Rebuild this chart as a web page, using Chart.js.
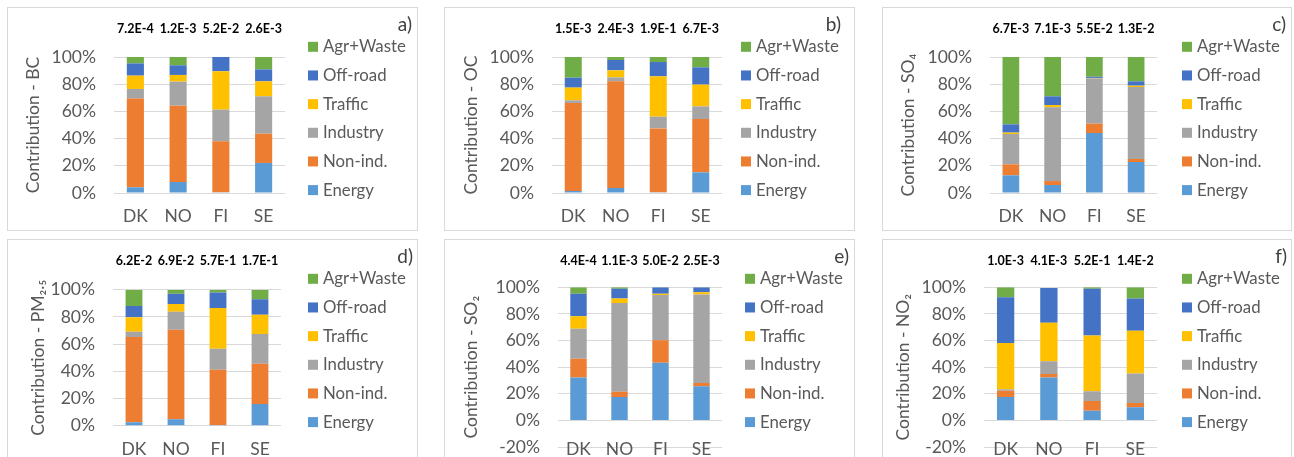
<!DOCTYPE html>
<html>
<head>
<meta charset="utf-8">
<title>Source contributions</title>
<script src="https://cdn.jsdelivr.net/npm/chart.js@4.4.1/dist/chart.umd.min.js"></script>
<style>
  html, body {
    margin: 0;
    padding: 0;
    width: 1294px;
    height: 457px;
    overflow: hidden;
    background: #ffffff;
  }
  .panel {
    position: absolute;
    box-sizing: border-box;
    border: 1px solid #d9d9d9;
    background: #ffffff;
  }
  .panel canvas {
    display: block;
  }
</style>
</head>
<body>
<div class="panel" style="left:7px;top:7px;width:411px;height:224px"><canvas id="chart-bc" width="409" height="222"></canvas></div>
<div class="panel" style="left:444px;top:7px;width:411px;height:224px"><canvas id="chart-oc" width="409" height="222"></canvas></div>
<div class="panel" style="left:882px;top:7px;width:410px;height:224px"><canvas id="chart-so4" width="408" height="222"></canvas></div>
<div class="panel" style="left:7px;top:239px;width:411px;height:224px"><canvas id="chart-pm25" width="409" height="222"></canvas></div>
<div class="panel" style="left:444px;top:239px;width:411px;height:224px"><canvas id="chart-so2" width="409" height="222"></canvas></div>
<div class="panel" style="left:882px;top:239px;width:410px;height:224px"><canvas id="chart-no2" width="408" height="222"></canvas></div>

<script>
var countries = ['DK', 'NO', 'FI', 'SE'];
var sourceNames = ['Energy', 'Non-ind.', 'Industry', 'Traffic', 'Off-road', 'Agr+Waste'];

// shares in %, one row per source (same order as sourceNames), one column per country
var bcShares = [
  [4.2, 8.1, 0.5, 22.1],
  [65.2, 56.1, 37.5, 21.5],
  [7.1, 17.7, 23.3, 27.5],
  [9.8, 4.9, 28.2, 11.0],
  [9.0, 7.1, 10.5, 8.8],
  [4.7, 6.1, 0, 9.1]
];
var bcTotals = ['7.2E-4', '1.2E-3', '5.2E-2', '2.6E-3'];

var ocShares = [
  [1.5, 3.7, 0.5, 15.2],
  [64.7, 78.4, 47.0, 39.2],
  [1.9, 2.9, 8.6, 9.3],
  [9.4, 5.2, 29.7, 16.0],
  [7.3, 7.6, 10.5, 12.7],
  [15.2, 2.2, 3.7, 7.6]
];
var ocTotals = ['1.5E-3', '2.4E-3', '1.9E-1', '6.7E-3'];

var so4Shares = [
  [13.0, 5.9, 44.1, 22.8],
  [8.1, 2.9, 6.9, 2.2],
  [22.3, 54.2, 33.3, 52.9],
  [1.0, 1.7, 0.3, 1.0],
  [6.1, 6.4, 0.9, 3.2],
  [49.5, 28.9, 14.5, 17.9]
];
var so4Totals = ['6.7E-3', '7.1E-3', '5.5E-2', '1.3E-2'];

var pm25Shares = [
  [2.5, 4.7, 0.5, 15.9],
  [62.7, 65.9, 40.7, 29.7],
  [3.9, 13.2, 15.4, 21.8],
  [10.6, 5.7, 29.9, 14.2],
  [8.3, 7.6, 11.5, 11.3],
  [12.0, 2.9, 2.0, 7.1]
];
var pm25Totals = ['6.2E-2', '6.9E-2', '5.7E-1', '1.7E-1'];

var so2Shares = [
  [32.3, 17.5, 43.4, 25.6],
  [14.1, 4.1, 16.8, 2.5],
  [22.5, 66.6, 34.0, 66.4],
  [9.3, 3.3, 1.0, 1.7],
  [17.0, 7.5, 4.8, 3.8],
  [4.8, 1.0, 0, -0.5]
];
var so2Totals = ['4.4E-4', '1.1E-3', '5.0E-2', '2.5E-3'];

var no2Shares = [
  [17.5, 32.3, 7.3, 9.8],
  [4.8, 2.5, 7.2, 3.2],
  [1.0, 9.6, 7.3, 22.3],
  [34.8, 29.0, 41.9, 32.1],
  [34.4, 26.1, 35.3, 24.1],
  [7.5, -0.5, 1.0, 8.5]
];
var no2Totals = ['1.0E-3', '4.1E-3', '5.2E-1', '1.4E-2'];

(function () {
  var FONT = 'Lato, "Liberation Sans", Arial, sans-serif';
  var FONT_SIZE = 17.5;
  var LEGEND_FONT_SIZE = 16.8;
  var HALF_LINE = FONT_SIZE * 1.2 / 2;
  var TEXT_COLOR = '#595959';
  var GRID_COLOR = '#d9d9d9';
  var SOURCE_COLORS = ['#5b9bd5', '#ed7d31', '#a5a5a5', '#ffc000', '#4472c4', '#70ad47'];

  Chart.defaults.font.family = FONT;
  Chart.defaults.font.size = FONT_SIZE;
  Chart.defaults.color = TEXT_COLOR;

  // totals above bars, panel letter and the legend column on the right
  var panelDecor = {
    id: 'panelDecor',
    afterDraw: function (chart, args, opts) {
      var ctx = chart.ctx;
      var xScale = chart.scales.x;
      ctx.save();

      ctx.font = 'bold 12.5px ' + FONT;
      ctx.fillStyle = '#000000';
      ctx.textAlign = 'center';
      ctx.textBaseline = 'middle';
      (opts.totals || []).forEach(function (text, i) {
        ctx.fillText(text, xScale.getPixelForValue(i), 20.5);
      });

      ctx.font = '19px ' + FONT;
      ctx.fillStyle = '#404040';
      ctx.textAlign = 'right';
      ctx.fillText(opts.letter, opts.letterX, 17);

      ctx.font = LEGEND_FONT_SIZE + 'px ' + FONT;
      ctx.textAlign = 'left';
      var datasets = chart.data.datasets;
      for (var k = datasets.length - 1, row = 0; k >= 0; k--, row++) {
        var y = 38.8 + row * 28.66;
        ctx.fillStyle = datasets[k].backgroundColor;
        ctx.fillRect(opts.legendX, y - 5, 10, 10);
        ctx.fillStyle = TEXT_COLOR;
        ctx.fillText(datasets[k].label, opts.legendX + 15, y);
      }
      ctx.restore();
    }
  };

  function buildDatasets(shares) {
    return sourceNames.map(function (name, i) {
      return {
        label: name,
        data: shares[i],
        backgroundColor: SOURCE_COLORS[i],
        borderWidth: 0,
        barPercentage: 0.4,
        categoryPercentage: 1
      };
    });
  }

  function makePanel(cfg) {
    var canvas = document.getElementById(cfg.id);
    var width = canvas.width;
    var height = canvas.height;

    return new Chart(canvas, {
      type: 'bar',
      data: {
        labels: countries,
        datasets: buildDatasets(cfg.shares)
      },
      options: {
        responsive: false,
        animation: false,
        layout: {
          padding: { left: 0, top: cfg.top, right: width - cfg.right, bottom: 0 }
        },
        scales: {
          x: {
            stacked: true,
            grid: { display: false, drawTicks: false },
            border: { display: false },
            ticks: {
              padding: cfg.labelDy - HALF_LINE,
              color: TEXT_COLOR,
              // mirror only switches off the label clip, so labels may sit on the -20% line
              mirror: cfg.labelDy < 0
            },
            afterFit: function (scale) {
              scale.height = height - cfg.bottom;
            }
          },
          y: {
            stacked: true,
            min: cfg.min,
            max: 100,
            grid: { color: GRID_COLOR, lineWidth: 1, drawTicks: false },
            border: { display: false },
            ticks: {
              stepSize: 20,
              padding: 18,
              color: TEXT_COLOR,
              callback: function (value) {
                return value + '%';
              }
            },
            title: {
              display: true,
              text: cfg.title,
              color: TEXT_COLOR,
              padding: { top: cfg.titleX - HALF_LINE, bottom: 0 }
            },
            afterFit: function (scale) {
              scale.width = cfg.left;
              // the plot area is placed by hand, so the label overhang must not push it
              scale.paddingTop = 0;
              scale.paddingBottom = 0;
            }
          }
        },
        plugins: {
          legend: { display: false },
          tooltip: { enabled: false },
          panelDecor: {
            totals: cfg.totals,
            letter: cfg.letter,
            letterX: cfg.letterX,
            legendX: cfg.legendX
          }
        }
      },
      plugins: [panelDecor]
    });
  }

  makePanel({ id: 'chart-bc', shares: bcShares, totals: bcTotals, title: 'Contribution - BC', letter: 'a)',
    left: 106, right: 277, top: 49, bottom: 185, min: 0, labelDy: 23.7, titleX: 25, letterX: 404, legendX: 300 });
  makePanel({ id: 'chart-oc', shares: ocShares, totals: ocTotals, title: 'Contribution - OC', letter: 'b)',
    left: 107, right: 277, top: 49, bottom: 185, min: 0, labelDy: 23.7, titleX: 26, letterX: 396, legendX: 296 });
  makePanel({ id: 'chart-so4', shares: so4Shares, totals: so4Totals, title: 'Contribution - SO\u2084', letter: 'c)',
    left: 107, right: 274, top: 49, bottom: 185, min: 0, labelDy: 23.7, titleX: 25.7, letterX: 403, legendX: 299 });
  makePanel({ id: 'chart-pm25', shares: pm25Shares, totals: pm25Totals, title: 'Contribution - PM\u2082.\u2085', letter: 'd)',
    left: 105, right: 273, top: 49.7, bottom: 185.7, min: 0, labelDy: 24, titleX: 30.3, letterX: 405, legendX: 300 });
  makePanel({ id: 'chart-so2', shares: so2Shares, totals: so2Totals, title: 'Contribution - SO\u2082', letter: 'e)',
    left: 113, right: 277, top: 47.3, bottom: 207, min: -20, labelDy: -2.3, titleX: 26, letterX: 404, legendX: 300 });
  makePanel({ id: 'chart-no2', shares: no2Shares, totals: no2Totals, title: 'Contribution - NO\u2082', letter: 'f)',
    left: 101, right: 274, top: 47.3, bottom: 207, min: -20, labelDy: -2.3, titleX: 20.7, letterX: 404, legendX: 299 });
})();
</script>
</body>
</html>
